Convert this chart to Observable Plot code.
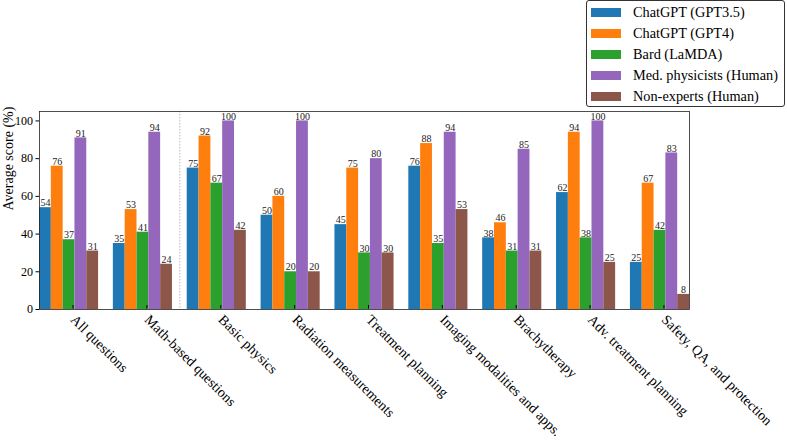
<!DOCTYPE html>
<html>
<head>
<meta charset="utf-8">
<script src="https://cdn.jsdelivr.net/npm/d3@7"></script>
<script src="https://cdn.jsdelivr.net/npm/@observablehq/plot@0.6"></script>
<style>
  body { margin: 0; background: #fff; }
  #wrap { position: relative; width: 787px; height: 443px; font-family: 'Liberation Serif', serif; }
  #legend { position: absolute; left: 586px; top: 0px; width: 199px; height: 107px; border: 1px solid #333; border-radius: 3px; background: #fff; box-sizing: border-box; padding-top: 1px; font-family: 'Liberation Serif', serif; }
  .li { display: flex; align-items: center; height: 21px; font-size: 14.3px; color: #000; white-space: nowrap; }
  .sw { width: 30px; height: 9px; margin-left: 4px; margin-right: 12px; flex: none; }
  svg text { font-family: 'Liberation Serif', serif; }
</style>
</head>
<body>
<div id="wrap"><div id="chart"></div><div id="legend"></div></div>
<script>
const categories = ["All questions", "Math-based questions", "Basic physics", "Radiation measurements", "Treatment planning", "Imaging modalities and apps.", "Brachytherapy", "Adv. treatment planning", "Safety, QA, and protection"];
const series = ["ChatGPT (GPT3.5)", "ChatGPT (GPT4)", "Bard (LaMDA)", "Med. physicists (Human)", "Non-experts (Human)"];
const colors = ["#1f77b4", "#ff7f0e", "#2ca02c", "#9467bd", "#8c564b"];
const gpt35 = [54, 35, 75, 50, 45, 76, 38, 62, 25];
const gpt4 = [76, 53, 92, 60, 75, 88, 46, 94, 67];
const bard = [37, 41, 67, 20, 30, 35, 31, 38, 42];
const medPhys = [91, 94, 100, 100, 80, 94, 85, 100, 83];
const nonExp = [31, 24, 42, 20, 30, 53, 31, 25, 8];
const yTicks = [0, 20, 40, 60, 80, 100];
const separatorAt = 1.5;

const FONT = "'Liberation Serif', serif";
const allVals = [gpt35, gpt4, bard, medPhys, nonExp];
const W = 0.16;
const rows = [];
categories.forEach((c, i) => {
  series.forEach((s, j) => {
    const x1 = i - 0.4 + j * W;
    rows.push({cat: c, series: s, value: allVals[j][i], x1, x2: x1 + W, xm: x1 + W / 2});
  });
});

const chart = Plot.plot({
  width: 787,
  height: 443,
  marginLeft: 39,
  marginRight: 98,
  marginTop: 111,
  marginBottom: 134,
  style: {fontFamily: FONT, background: "#fff", color: "#000"},
  x: {domain: [-0.4, 8.4]},
  y: {domain: [0, 105]},
  color: {domain: series, range: colors},
  marks: [
    Plot.rectY(rows, {x1: "x1", x2: "x2", y1: 0, y2: "value", fill: "series"}),
    Plot.text(rows, {x: "xm", y: "value", text: d => String(d.value), dy: -4.5, fontSize: 10, fill: "#222", fontFamily: FONT}),
    Plot.ruleX([separatorAt], {stroke: "#bbb", strokeDasharray: "1.5,1.5", strokeWidth: 1}),
    Plot.axisY({ticks: yTicks, tickSize: 3.5, tickPadding: 3, fontSize: 12, label: null, fontFamily: FONT}),
    Plot.axisX({ticks: d3.range(categories.length), tickFormat: i => categories[i], tickSize: 3.5, tickRotate: 45, textAnchor: "start", fontSize: 14, label: null, dx: 4, dy: -4, fontFamily: FONT}),
    Plot.text(["Average score (%)"], {frameAnchor: "left", rotate: -90, dx: -31, fontSize: 14, fontFamily: FONT}),
    Plot.frame({stroke: "#222", strokeWidth: 0.8})
  ]
});
document.getElementById("chart").appendChild(chart);

const legend = document.getElementById("legend");
series.forEach((s, j) => {
  const li = document.createElement("div");
  li.className = "li";
  li.innerHTML = `<span class="sw" style="background:${colors[j]}"></span><span>${s}</span>`;
  legend.appendChild(li);
});
</script>
</body>
</html>
